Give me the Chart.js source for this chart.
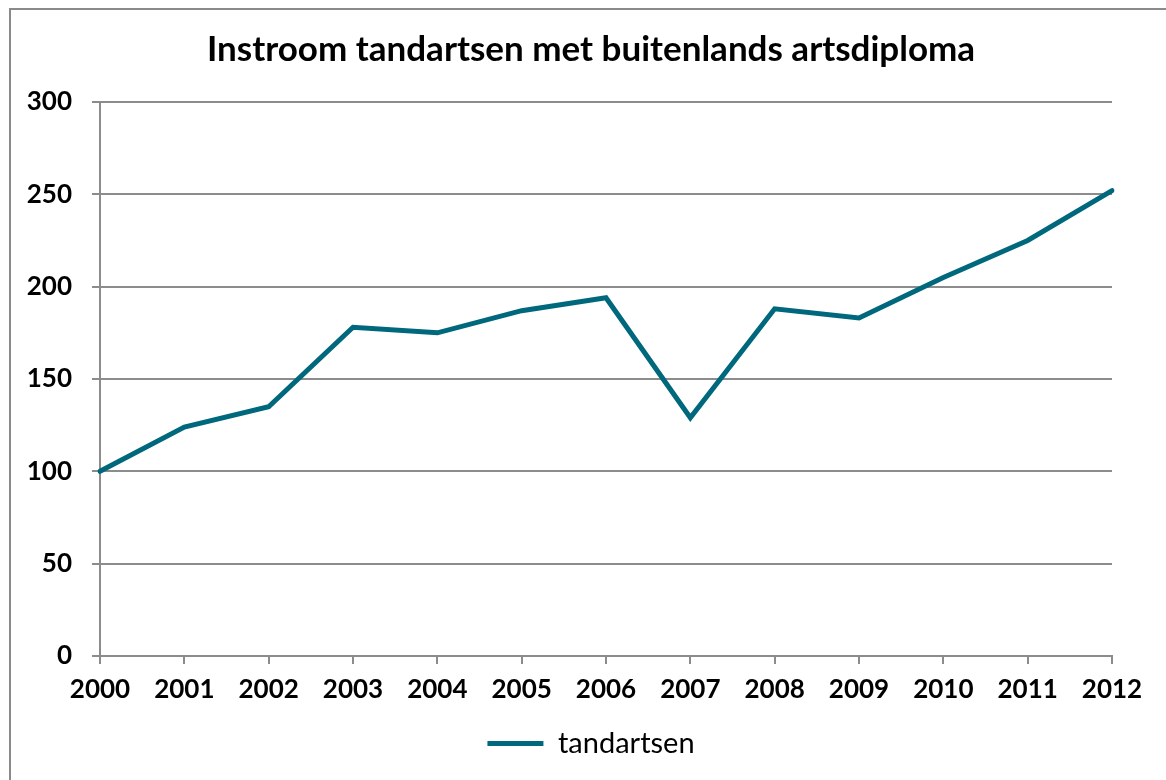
<!DOCTYPE html>
<html>
<head>
<meta charset="utf-8">
<script src="https://cdn.jsdelivr.net/npm/chart.js@4.4.1/dist/chart.umd.min.js"></script>
<style>
  html, body { margin: 0; padding: 0; background: #fff; overflow: hidden; }
  #frame { position: absolute; left: 9px; top: 8px; width: 1300px; height: 900px; border: 2px solid #8a8a8a; box-sizing: border-box; }
  #wrap { position: absolute; left: 0; top: 0; width: 1166px; height: 780px; }
</style>
</head>
<body>
<div id="frame"></div>
<div id="wrap"><canvas id="c" width="1166" height="780"></canvas></div>
<script>
const titleText = 'Instroom tandartsen met buitenlands artsdiploma';
const years = ['2000','2001','2002','2003','2004','2005','2006','2007','2008','2009','2010','2011','2012'];
const seriesName = 'tandartsen';
const tandartsen = [100, 124, 135, 178, 175, 187, 194, 129, 188, 183, 205, 225, 252];
const yTicks = [0, 50, 100, 150, 200, 250, 300];

const teal = '#00687c';
const gridGray = '#8c8c8c';
const fontFam = 'Lato, "Open Sans", sans-serif';

new Chart(document.getElementById('c'), {
  type: 'line',
  data: {
    labels: years,
    datasets: [{
      label: seriesName,
      data: tandartsen,
      borderColor: teal,
      backgroundColor: teal,
      borderWidth: 5,
      pointRadius: 0,
      tension: 0,
      borderJoinStyle: 'miter',
      borderCapStyle: 'round'
    }]
  },
  options: {
    responsive: false,
    animation: false,
    devicePixelRatio: 1,
    layout: { padding: { left: 16, right: 0, top: 0, bottom: 12 } },
    plugins: {
      title: {
        display: true,
        text: titleText,
        color: '#000',
        font: { family: fontFam, size: 35, weight: 'bold', lineHeight: 1.2 },
        padding: { top: 29, bottom: 31 }
      },
      legend: {
        display: true,
        position: 'bottom',
        labels: {
          color: '#000',
          font: { family: fontFam, size: 29 },
          boxWidth: 56,
          boxHeight: 5,
          padding: 10,
          generateLabels: (chart) => {
            const items = Chart.defaults.plugins.legend.labels.generateLabels(chart);
            items.forEach(it => { it.lineWidth = 0; it.fillStyle = teal; it.strokeStyle = teal; });
            return items;
          }
        }
      },
      tooltip: { enabled: false }
    },
    scales: {
      x: {
        offset: false,
        afterFit: (s) => { s.height = 63; },
        grid: { drawOnChartArea: false, drawTicks: true, tickLength: 8, color: gridGray, lineWidth: 2 },
        border: { display: true, color: gridGray, width: 2 },
        ticks: { color: '#000', font: { family: fontFam, size: 26, weight: 'bold' }, padding: 10, maxRotation: 0, autoSkip: false }
      },
      y: {
        min: 0,
        max: 300,
        afterFit: (s) => { s.width = 84; },
        afterBuildTicks: (s) => { s.ticks = yTicks.map(v => ({ value: v })); },
        grid: { drawOnChartArea: true, drawTicks: true, tickLength: 8, color: gridGray, lineWidth: 2 },
        border: { display: true, color: gridGray, width: 2 },
        ticks: { color: '#000', font: { family: fontFam, size: 26, weight: 'bold' }, padding: 20 }
      },
      yRight: {
        position: 'right',
        display: true,
        min: 0,
        max: 300,
        afterFit: (s) => { s.width = 54; },
        grid: { display: false, drawOnChartArea: false },
        border: { display: false },
        ticks: { display: false }
      }
    }
  }
});
</script>
</body>
</html>
